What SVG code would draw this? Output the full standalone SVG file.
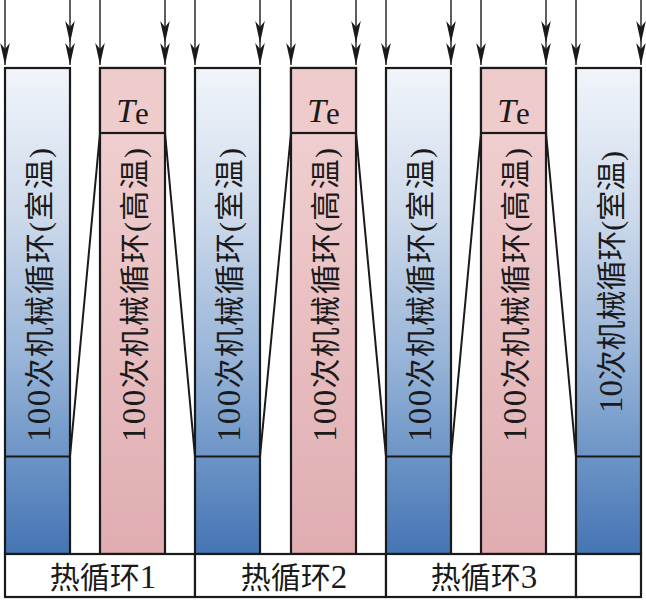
<svg xmlns="http://www.w3.org/2000/svg" width="646" height="601" viewBox="0 0 646 601">
  <style>
    .box { stroke: #1a1a1a; stroke-width: 2.2; }
    .blue { fill: url(#gBlue); }
    .pink { fill: url(#gPink); }
    .te { fill: #efcbcc; }
    .cell { fill: #ffffff; stroke: #1a1a1a; stroke-width: 2.2; }
    .div { stroke: #1a1a1a; stroke-width: 2.2; fill: none; }
    .vt { font-family: "Liberation Serif", "Noto Sans CJK SC", serif; font-size: 30px; fill: #1a1a1a; text-anchor: end; dominant-baseline: central; }
    .lbl { font-family: "Liberation Serif", "Noto Sans CJK SC", serif; font-size: 30px; fill: #1a1a1a; text-anchor: middle; }
    .num { font-size: 33px; }
    .tel { font-family: "Liberation Serif", serif; font-size: 34px; fill: #1a1a1a; text-anchor: middle; }
    .arr { stroke: #1a1a1a; stroke-width: 1.4; fill: none; }
    .one { marker-end: url(#ah); }
    .two { marker-mid: url(#ah); marker-end: url(#ah); }
    .slant { stroke: #1a1a1a; stroke-width: 2; fill: none; }
  </style>
  <defs>
    <linearGradient id="gBlue" gradientUnits="userSpaceOnUse" x1="0" y1="68" x2="0" y2="554">
      <stop offset="0" stop-color="#f1f5fa"/>
      <stop offset="0.3" stop-color="#cddaeb"/>
      <stop offset="0.6" stop-color="#97b4d8"/>
      <stop offset="0.8" stop-color="#6c94c6"/>
      <stop offset="1" stop-color="#4575b4"/>
    </linearGradient>
    <linearGradient id="gPink" gradientUnits="userSpaceOnUse" x1="0" y1="68" x2="0" y2="554">
      <stop offset="0" stop-color="#f2d3d4"/>
      <stop offset="1" stop-color="#e0adb1"/>
    </linearGradient>
    <marker id="ah" markerUnits="userSpaceOnUse" viewBox="0 -5 22 10" refX="22" refY="0" markerWidth="22" markerHeight="10" orient="auto">
      <path d="M0,-4.8 L22,0 L0,4.8 L6,0 Z" fill="#1a1a1a"/>
    </marker>
  </defs>

  <!-- columns -->
  <g id="blue1">
    <rect class="box blue" x="5" y="68" width="65" height="486"/>
    <line class="div" x1="5" y1="456.5" x2="70" y2="456.5"/>
    <text class="vt" transform="translate(39,148) rotate(-90)" textLength="294" lengthAdjust="spacing"><tspan class="num">100</tspan>次机械循环(室温)</text>
  </g>
  <g id="pink1">
    <rect class="box pink" x="100" y="68" width="65" height="486"/>
    <rect class="box te" x="100" y="68" width="65" height="65"/>
    <text class="tel" x="132.5" y="122"><tspan font-style="italic">T</tspan><tspan font-size="31" dy="2">e</tspan></text>
    <text class="vt" transform="translate(134,148) rotate(-90)" textLength="294" lengthAdjust="spacing"><tspan class="num">100</tspan>次机械循环(高温)</text>
  </g>
  <g id="blue2">
    <rect class="box blue" x="195" y="68" width="65" height="486"/>
    <line class="div" x1="195" y1="456.5" x2="260" y2="456.5"/>
    <text class="vt" transform="translate(229,148) rotate(-90)" textLength="294" lengthAdjust="spacing"><tspan class="num">100</tspan>次机械循环(室温)</text>
  </g>
  <g id="pink2">
    <rect class="box pink" x="291" y="68" width="65" height="486"/>
    <rect class="box te" x="291" y="68" width="65" height="65"/>
    <text class="tel" x="323.5" y="122"><tspan font-style="italic">T</tspan><tspan font-size="31" dy="2">e</tspan></text>
    <text class="vt" transform="translate(325,148) rotate(-90)" textLength="294" lengthAdjust="spacing"><tspan class="num">100</tspan>次机械循环(高温)</text>
  </g>
  <g id="blue3">
    <rect class="box blue" x="386" y="68" width="65" height="486"/>
    <line class="div" x1="386" y1="456.5" x2="451" y2="456.5"/>
    <text class="vt" transform="translate(420,148) rotate(-90)" textLength="294" lengthAdjust="spacing"><tspan class="num">100</tspan>次机械循环(室温)</text>
  </g>
  <g id="pink3">
    <rect class="box pink" x="481" y="68" width="65" height="486"/>
    <rect class="box te" x="481" y="68" width="65" height="65"/>
    <text class="tel" x="513.5" y="122"><tspan font-style="italic">T</tspan><tspan font-size="31" dy="2">e</tspan></text>
    <text class="vt" transform="translate(515,148) rotate(-90)" textLength="294" lengthAdjust="spacing"><tspan class="num">100</tspan>次机械循环(高温)</text>
  </g>
  <g id="blue4">
    <rect class="box blue" x="576" y="68" width="65" height="486"/>
    <line class="div" x1="576" y1="456.5" x2="641" y2="456.5"/>
    <text class="vt" transform="translate(611,151) rotate(-90)" textLength="262" lengthAdjust="spacing"><tspan class="num">10</tspan>次机械循环(室温)</text>
  </g>

  <!-- bottom row -->
  <g id="cycle1">
    <rect class="cell" x="5" y="554" width="190" height="43"/>
    <text class="lbl" x="103" y="588">热循环<tspan class="num">1</tspan></text>
  </g>
  <g id="cycle2">
    <rect class="cell" x="195" y="554" width="191" height="43"/>
    <text class="lbl" x="294" y="588">热循环<tspan class="num">2</tspan></text>
  </g>
  <g id="cycle3">
    <rect class="cell" x="386" y="554" width="190" height="43"/>
    <text class="lbl" x="484" y="588">热循环<tspan class="num">3</tspan></text>
  </g>
  <g id="cycle-end">
    <rect class="cell" x="576" y="554" width="65" height="43"/>
  </g>

  <!-- connectors -->
  <g id="connectors">
    <line class="arr one" x1="5" y1="0" x2="5" y2="65"/>
    <polyline class="arr two" points="70,0 70,43 70,65"/>
    <line class="arr one" x1="100" y1="0" x2="100" y2="65"/>
    <polyline class="arr two" points="165,0 165,43 165,65"/>
    <line class="arr one" x1="195" y1="0" x2="195" y2="65"/>
    <polyline class="arr two" points="260,0 260,43 260,65"/>
    <line class="arr one" x1="291" y1="0" x2="291" y2="65"/>
    <polyline class="arr two" points="356,0 356,43 356,65"/>
    <line class="arr one" x1="386" y1="0" x2="386" y2="65"/>
    <polyline class="arr two" points="451,0 451,43 451,65"/>
    <line class="arr one" x1="481" y1="0" x2="481" y2="65"/>
    <polyline class="arr two" points="546,0 546,43 546,65"/>
    <line class="arr one" x1="576" y1="0" x2="576" y2="65"/>
    <polyline class="arr two" points="641,0 641,43 641,65"/>

    <line class="slant" x1="100" y1="133" x2="70" y2="456.5"/>
    <line class="slant" x1="165" y1="133" x2="195" y2="456.5"/>
    <line class="slant" x1="291" y1="133" x2="260" y2="456.5"/>
    <line class="slant" x1="356" y1="133" x2="386" y2="456.5"/>
    <line class="slant" x1="481" y1="133" x2="451" y2="456.5"/>
    <line class="slant" x1="546" y1="133" x2="576" y2="456.5"/>
  </g>
</svg>
